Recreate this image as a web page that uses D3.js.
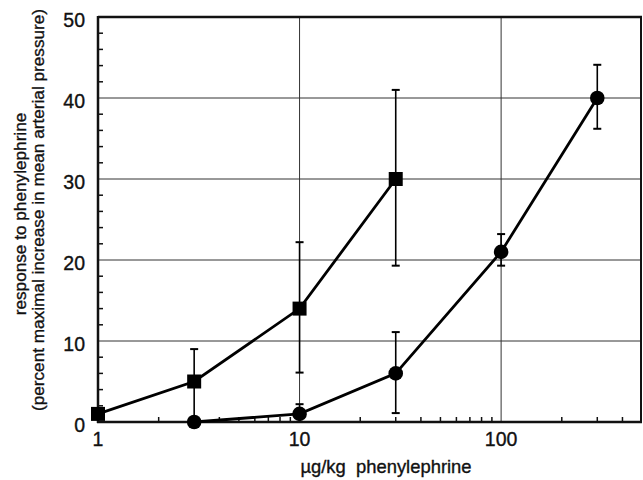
<!DOCTYPE html>
<html>
<head>
<meta charset="utf-8">
<script src="https://cdn.jsdelivr.net/npm/d3@7"></script>
<style>
  html, body { margin: 0; padding: 0; background: #fff; }
  svg { display: block; }
  text { font-family: "Liberation Sans", Arial, Helvetica, sans-serif; fill: #111; stroke: #111; stroke-width: 0.35px; }
</style>
</head>
<body>
<svg id="chart" width="643" height="480"></svg>
<script>
// ---- data ----
const xDomain = [1, 500];
const yDomain = [0, 50];
const xTickValues = [1, 10, 100];
const xTickLabels = ["1", "10", "100"];
const yTickValues = [0, 10, 20, 30, 40, 50];
const yTickLabels = ["0", "10", "20", "30", "40", "50"];

const squareDose  = [1, 3, 10, 30];
const squareMean  = [1, 5, 14, 30];
const squareHigh  = [1, 9, 22.2, 41];
const squareLow   = [1, 0, 6.1, 19.3];

const circleDose  = [3, 10, 30, 100, 300];
const circleMean  = [0, 1, 6, 21, 40];
const circleHigh  = [0, 2.2, 11.1, 23.2, 44.1];
const circleLow   = [0, 0.9, 1.1, 19.3, 36.2];

const xLabel = "\u00b5g/kg  phenylephrine";
const yLabel1 = "response to phenylephrine";
const yLabel2 = "(percent maximal increase in mean arterial pressure)";

// ---- layout ----
const svg = d3.select("#chart");
const mLeft = 98, mRight = 642, mTop = 17, mBottom = 422;

const x = d3.scaleLog().domain(xDomain).range([mLeft, mRight]);
const y = d3.scaleLinear().domain(yDomain).range([mBottom, mTop]);

// gridlines
const g = svg.append("g");
g.selectAll(".hgrid").data(yTickValues.filter(v => v > 0 && v < 50)).enter()
  .append("line")
  .attr("x1", mLeft).attr("x2", mRight)
  .attr("y1", d => y(d)).attr("y2", d => y(d))
  .attr("stroke", "#333").attr("stroke-width", 1);
g.selectAll(".vgrid").data(xTickValues.filter(v => v > 1)).enter()
  .append("line")
  .attr("y1", mTop).attr("y2", mBottom)
  .attr("x1", d => x(d)).attr("x2", d => x(d))
  .attr("stroke", "#333").attr("stroke-width", 1);

// minor ticks on x (inside, upward)
const xMinor = [];
[1, 10, 100].forEach(dec => {
  for (let k = 2; k <= 9; k++) { const v = k * dec; if (v < xDomain[1]) xMinor.push(v); }
});
g.selectAll(".xminor").data(xMinor).enter().append("line")
  .attr("x1", d => x(d)).attr("x2", d => x(d))
  .attr("y1", mBottom).attr("y2", mBottom - 5)
  .attr("stroke", "#111").attr("stroke-width", 1.5);

// minor ticks on y (inside, rightward)
const yMinor = d3.range(2, 50, 2).filter(v => v % 10 !== 0);
g.selectAll(".yminor").data(yMinor).enter().append("line")
  .attr("x1", mLeft).attr("x2", mLeft + 5)
  .attr("y1", d => y(d)).attr("y2", d => y(d))
  .attr("stroke", "#111").attr("stroke-width", 1.5);

// frame
g.append("line").attr("x1", mLeft).attr("x2", mRight).attr("y1", mTop).attr("y2", mTop)
  .attr("stroke", "#111").attr("stroke-width", 2.5);
g.append("line").attr("x1", mRight - 1).attr("x2", mRight - 1).attr("y1", mTop).attr("y2", mBottom)
  .attr("stroke", "#111").attr("stroke-width", 2);
g.append("line").attr("x1", mLeft).attr("x2", mLeft).attr("y1", mTop - 1).attr("y2", mBottom + 1)
  .attr("stroke", "#111").attr("stroke-width", 2.5);
g.append("line").attr("x1", mLeft - 1).attr("x2", mRight).attr("y1", mBottom).attr("y2", mBottom)
  .attr("stroke", "#111").attr("stroke-width", 2.5);

// tick labels
g.selectAll(".ylab").data(yTickValues).enter().append("text")
  .attr("x", 85).attr("y", d => y(d) + 10)
  .attr("text-anchor", "end").attr("font-size", 19.5)
  .text((d, i) => yTickLabels[i]);
g.selectAll(".xlab").data(xTickValues).enter().append("text")
  .attr("x", d => x(d)).attr("y", 446)
  .attr("text-anchor", "middle").attr("font-size", 19.5)
  .text((d, i) => xTickLabels[i]);

// axis titles
svg.append("text").attr("x", 386).attr("y", 473)
  .attr("text-anchor", "middle").attr("font-size", 18.4)
  .style("white-space", "pre")
  .text(xLabel);
svg.append("text").attr("transform", "translate(25.5,214) rotate(-90)")
  .attr("text-anchor", "middle").attr("font-size", 17.2)
  .text(yLabel1);
svg.append("text").attr("transform", "translate(43.5,210) rotate(-90)")
  .attr("text-anchor", "middle").attr("font-size", 17.2)
  .text(yLabel2);

// series helper
function series(dose, mean, hi, lo, shape) {
  const pts = dose.map((d, i) => ({ d, m: mean[i], h: hi[i], l: lo[i] }));
  const line = d3.line().x(p => x(p.d)).y(p => y(p.m));
  svg.append("path").datum(pts).attr("d", line)
    .attr("fill", "none").attr("stroke", "#000").attr("stroke-width", 2.8);
  const eb = svg.append("g").attr("stroke", "#000").attr("stroke-width", 1.6);
  pts.filter(p => p.h !== p.l).forEach(p => {
    eb.append("line").attr("x1", x(p.d)).attr("x2", x(p.d)).attr("y1", y(p.h)).attr("y2", y(p.l));
    [p.h, p.l].forEach(v => {
      eb.append("line").attr("x1", x(p.d) - 4).attr("x2", x(p.d) + 4)
        .attr("y1", y(v)).attr("y2", y(v)).attr("stroke-width", 2);
    });
  });
  if (shape === "square") {
    svg.selectAll(null).data(pts).enter().append("rect")
      .attr("x", p => x(p.d) - 7).attr("y", p => y(p.m) - 7)
      .attr("width", 14).attr("height", 14).attr("fill", "#000");
  } else {
    svg.selectAll(null).data(pts).enter().append("circle")
      .attr("cx", p => x(p.d)).attr("cy", p => y(p.m)).attr("r", 7.3).attr("fill", "#000");
  }
}
series(squareDose, squareMean, squareHigh, squareLow, "square");
series(circleDose, circleMean, circleHigh, circleLow, "circle");
</script>
</body>
</html>
